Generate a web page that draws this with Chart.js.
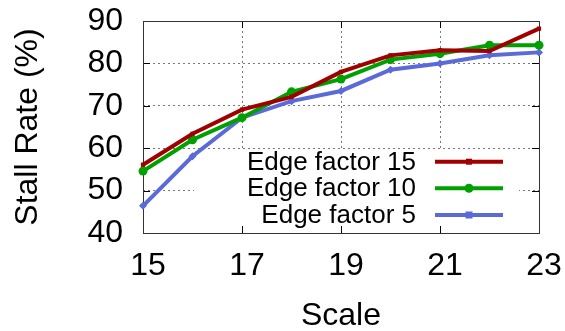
<!DOCTYPE html>
<html>
<head>
<meta charset="utf-8">
<script src="https://cdn.jsdelivr.net/npm/chart.js@4.4.1/dist/chart.umd.min.js"></script>
<style>
html,body{margin:0;padding:0;background:#fff;}
#wrap{width:565px;height:331px;}
</style>
</head>
<body>
<div id="wrap"><canvas id="c" width="565" height="331"></canvas></div>
<script>
const scales = [15, 16, 17, 18, 19, 20, 21, 22, 23];
const edge15 = [56.1, 63.4, 69.1, 72.1, 78.0, 81.9, 83.1, 82.9, 88.2];
const edge10 = [54.6, 62.0, 67.2, 73.3, 76.3, 80.9, 82.3, 84.3, 84.3];
const edge5 = [46.4, 58.1, 67.2, 71.1, 73.5, 78.5, 80.0, 81.9, 82.6];
const seriesNames = ['Edge factor 15', 'Edge factor 10', 'Edge factor 5'];
const xTicks = [15, 17, 19, 21, 23];
const yTicks = [40, 50, 60, 70, 80, 90];

const RED = '#a00000', GREEN = '#00a000', BLUE = '#5a6ad8';
const FONT = '"Liberation Sans", Arial, sans-serif';

function toPts(vals) { return vals.map((v, i) => ({x: scales[i], y: v})); }

const frame = {
  id: 'frame',
  beforeDatasetsDraw(chart) {
    const {ctx, chartArea: a, scales: s} = chart;
    ctx.save();
    // opaque key area (hides grid behind the key)
    ctx.fillStyle = '#fff';
    ctx.fillRect(194, 151, 325, 78);
    ctx.strokeStyle = '#000';
    ctx.lineWidth = 1;
    ctx.beginPath();
    yTicks.forEach(v => {
      const y = Math.round(s.y.getPixelForValue(v)) + 0.5;
      ctx.moveTo(a.left, y); ctx.lineTo(a.left + 7, y);
      ctx.moveTo(a.right, y); ctx.lineTo(a.right - 7, y);
    });
    xTicks.forEach(v => {
      const x = Math.round(s.x.getPixelForValue(v)) + 0.5;
      ctx.moveTo(x, a.bottom); ctx.lineTo(x, a.bottom - 7);
      ctx.moveTo(x, a.top); ctx.lineTo(x, a.top + 7);
    });
    ctx.stroke();
    ctx.strokeStyle = '#333';
    ctx.strokeRect(Math.round(a.left) + 0.5, Math.round(a.top) + 0.5,
                   Math.round(a.right - a.left), Math.round(a.bottom - a.top));
    ctx.restore();
  },
  afterDatasetsDraw(chart) {
    const {ctx} = chart;
    ctx.save();
    const rows = [161.7, 188.3, 215];
    const cols = [RED, GREEN, BLUE];
    ctx.font = '26px ' + FONT;
    ctx.textAlign = 'right';
    ctx.textBaseline = 'middle';
    rows.forEach((y, i) => {
      ctx.fillStyle = '#000';
      ctx.fillText(seriesNames[i], 416, y + 1);
      ctx.strokeStyle = cols[i];
      ctx.lineWidth = 4;
      ctx.beginPath();
      ctx.moveTo(435, y); ctx.lineTo(503, y);
      ctx.stroke();
      ctx.fillStyle = cols[i];
      if (i === 0) {
        ctx.fillRect(466, y - 3, 6, 6);
      } else if (i === 1) {
        ctx.beginPath(); ctx.arc(469, y, 4.5, 0, Math.PI * 2); ctx.fill();
      } else {
        ctx.fillRect(465.5, y - 3.5, 7, 7);
      }
    });
    ctx.restore();
  }
};

new Chart(document.getElementById('c'), {
  type: 'line',
  data: {
    datasets: [
      {label: seriesNames[0], data: toPts(edge15), borderColor: RED, backgroundColor: RED,
       borderWidth: 4, pointStyle: 'rect', pointRadius: 3, pointBorderWidth: 0, clip: false},
      {label: seriesNames[1], data: toPts(edge10), borderColor: GREEN, backgroundColor: GREEN,
       borderWidth: 4, pointStyle: 'circle', pointRadius: 4.5, pointBorderWidth: 0, clip: false},
      {label: seriesNames[2], data: toPts(edge5), borderColor: BLUE, backgroundColor: BLUE,
       borderWidth: 4, pointStyle: 'rectRot', pointRadius: 4, pointBorderWidth: 0, clip: false}
    ]
  },
  options: {
    responsive: false,
    animation: false,
    events: [],
    layout: {padding: {top: 21, right: 26, left: 0, bottom: 0}},
    plugins: {legend: {display: false}, tooltip: {enabled: false}},
    scales: {
      x: {
        type: 'linear', min: 15, max: 23,
        afterFit(s) { s.height = 98; s.paddingLeft = 0; s.paddingRight = 0; },
        afterBuildTicks(s) { s.ticks = xTicks.map(v => ({value: v})); },
        border: {display: false, dash: [2, 3]},
        grid: {lineWidth: 1, drawTicks: false,
               color: ctx => (ctx.tick && (ctx.tick.value === 15 || ctx.tick.value === 23)) ? 'rgba(0,0,0,0)' : '#777'},
        ticks: {color: '#000', font: {family: FONT, size: 32, lineHeight: 1.2}, padding: 14, labelOffset: 5, maxRotation: 0},
        title: {display: true, text: 'Scale', color: '#000', font: {family: FONT, size: 32, lineHeight: 1}, padding: {top: 0, bottom: -1}}
      },
      y: {
        min: 40, max: 90,
        afterFit(s) { s.width = 143; s.paddingTop = 0; s.paddingBottom = 0; },
        afterBuildTicks(s) { s.ticks = yTicks.map(v => ({value: v})); },
        border: {display: false, dash: [2, 3]},
        grid: {lineWidth: 1, drawTicks: false,
               color: ctx => (ctx.tick && (ctx.tick.value === 40 || ctx.tick.value === 90)) ? 'rgba(0,0,0,0)' : '#777'},
        ticks: {color: '#000', font: {family: FONT, size: 32, lineHeight: 1.2}, padding: 20},
        title: {display: true, text: 'Stall Rate (%)', color: '#000', font: {family: FONT, size: 32, lineHeight: 1}, padding: {top: 12, bottom: 0}}
      }
    }
  },
  plugins: [frame]
});
</script>
</body>
</html>
